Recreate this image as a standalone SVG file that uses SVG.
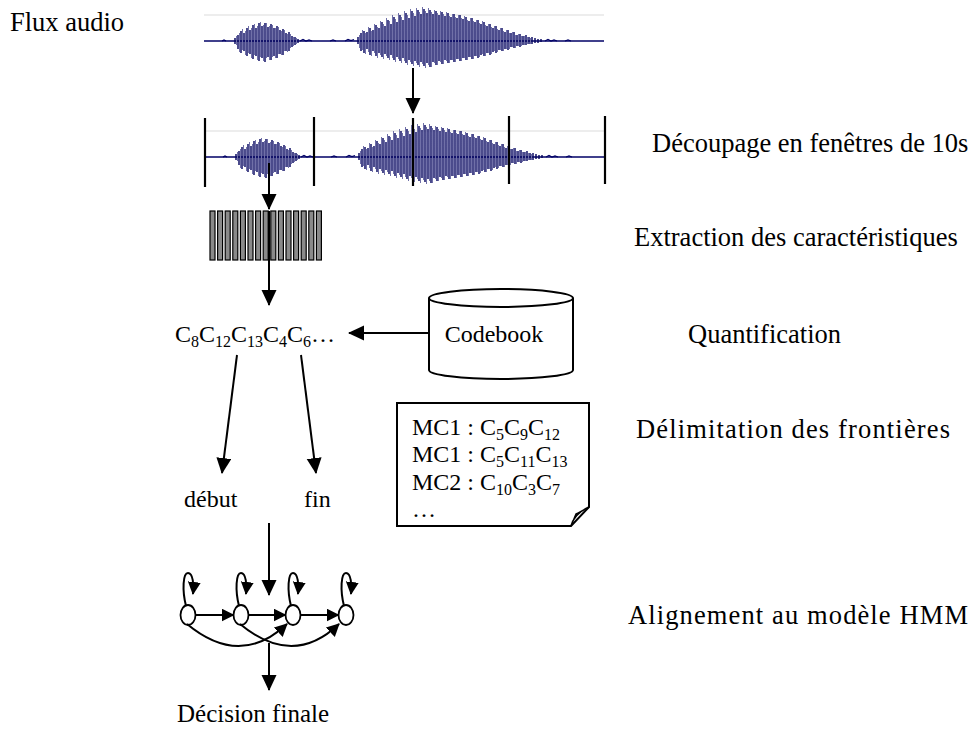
<svg xmlns="http://www.w3.org/2000/svg" xmlns:xlink="http://www.w3.org/1999/xlink" width="975" height="729" viewBox="0 0 975 729">
<style>
text{font-family:"Liberation Serif","Times New Roman",serif;fill:#000}
.lbl{font-size:26.5px}
.in{font-size:24px}
.ln{stroke:#000;stroke-width:2;fill:none}
.st{fill:#fff;stroke:#000;stroke-width:1.8}
.bar{fill:#8a8a8a;stroke:#000;stroke-width:1.2}
.win{stroke:#000;stroke-width:2.2}
</style>
<defs>
<marker id="ah" markerUnits="userSpaceOnUse" markerWidth="17" markerHeight="16" refX="15" refY="7.5" orient="auto"><path d="M0,0 L16,7.5 L0,15 z" fill="#000"/></marker>
<marker id="ahs" markerUnits="userSpaceOnUse" markerWidth="14" markerHeight="14" refX="12" refY="6.5" orient="auto"><path d="M0,0 L13,6.5 L0,13 z" fill="#000"/></marker>
<g id="wave">
<line x1="204" y1="-26" x2="604" y2="-26" stroke="#dcdcdc" stroke-width="1.2"/>
<path d="M204,0 H604" stroke="#000066" stroke-width="1.4"/>
<path d="M222,0 l2,-1 l2,1 M300,0 l3,-1.5 l3,1.5 l3,-1 l3,1 M330,0 l3,-1 l3,1 M345,0 l3,-1.5 l3,1 l3,-1 M545,0 l3,-1.5 l3,1.5 l3,-1 l3,1 M565,0 l3,-1 l3,1" stroke="#000066" stroke-width="1.2" fill="none"/>
<path stroke="#7070a8" stroke-width="1" fill="none" d="M236.5,-5V4M239.5,-8V11M242.5,-12V9M245.5,-10V14M248.5,-15V12M251.5,-13V17M254.5,-17V14M257.5,-15V19M260.5,-19V16M263.5,-16V20M266.5,-18V17M269.5,-15V19M272.5,-16V16M275.5,-13V17M278.5,-14V13M281.5,-10V14M284.5,-11V10M287.5,-7V11M290.5,-7V7M293.5,-4V5M296.5,-3V3M359.5,-6V7M362.5,-11V9M365.5,-8V13M368.5,-14V11M371.5,-10V15M374.5,-17V12M377.5,-14V17M380.5,-20V14M383.5,-17V18M386.5,-23V15M389.5,-20V19M392.5,-26V17M395.5,-22V21M398.5,-28V18M401.5,-24V22M404.5,-30V20M407.5,-26V24M410.5,-32V21M413.5,-28V25M416.5,-33V22M419.5,-29V26M422.5,-34V23M425.5,-30V27M428.5,-33V24M431.5,-29V26M434.5,-31V22M437.5,-28V24M440.5,-30V21M443.5,-27V23M446.5,-29V20M449.5,-25V22M452.5,-27V19M455.5,-24V21M458.5,-26V18M461.5,-23V20M464.5,-25V17M467.5,-21V19M470.5,-23V16M473.5,-20V18M476.5,-21V15M479.5,-18V16M482.5,-20V13M485.5,-16V15M488.5,-17V12M491.5,-14V13M494.5,-15V10M497.5,-12V11M500.5,-13V9M503.5,-10V10M506.5,-11V8M509.5,-8V8M512.5,-9V6M515.5,-6V7M518.5,-7V5M521.5,-5V5M524.5,-5V4M527.5,-4V3M530.5,-3V3"/>
<path stroke="#00005c" stroke-width="1.4" fill="none" d="M235,-3V3M238,-6V8M241,-10V12M244,-8V10M247,-13V15M250,-11V13M253,-16V18M256,-13V15M259,-18V20M262,-15V17M265,-18V21M268,-14V16M271,-17V19M274,-13V15M277,-15V17M280,-11V13M283,-12V14M286,-8V10M289,-9V10M292,-5V6M295,-4V4M298,-2V2M358,-4V3M361,-8V10M364,-10V12M367,-9V8M370,-13V14M373,-11V10M376,-16V15M379,-13V12M382,-19V16M385,-15V13M388,-21V17M391,-17V14M394,-24V19M397,-19V16M400,-26V20M403,-21V17M406,-28V22M409,-23V19M412,-30V23M415,-25V20M418,-31V24M421,-27V21M424,-32V25M427,-28V22M430,-31V26M433,-27V21M436,-30V24M439,-26V20M442,-29V23M445,-25V19M448,-28V22M451,-24V19M454,-27V21M457,-23V18M460,-26V20M463,-22V17M466,-24V19M469,-20V16M472,-23V18M475,-19V15M478,-21V17M481,-17V14M484,-19V15M487,-15V12M490,-17V14M493,-13V11M496,-15V12M499,-11V9M502,-13V10M505,-9V8M508,-11V9M511,-8V6M514,-9V7M517,-6V5M520,-7V6M523,-5V4M526,-6V4M529,-4V3M532,-4V3M535,-3V2M538,-2V2M541,-2V1"/>
</g>
</defs>

<g id="wave1"><use xlink:href="#wave" transform="translate(0,41)"/></g>

<g id="wave2">
<use xlink:href="#wave" transform="translate(1,157)"/>
<line class="win" x1="205" y1="118" x2="205" y2="187"/>
<line class="win" x1="314" y1="117" x2="314" y2="186"/>
<line class="win" x1="413" y1="118" x2="413" y2="186"/>
<line class="win" x1="509" y1="116" x2="509" y2="184"/>
<line class="win" x1="605" y1="116" x2="605" y2="184"/>
</g>

<g id="features">
<rect class="bar" x="210" y="211" width="5" height="49"/>
<rect class="bar" x="217.6" y="211" width="5" height="49"/>
<rect class="bar" x="225.2" y="211" width="5" height="49"/>
<rect class="bar" x="232.8" y="211" width="5" height="49"/>
<rect class="bar" x="240.4" y="211" width="5" height="49"/>
<rect class="bar" x="248" y="211" width="5" height="49"/>
<rect class="bar" x="255.6" y="211" width="5" height="49"/>
<rect class="bar" x="263.2" y="211" width="5" height="49"/>
<rect class="bar" x="270.8" y="211" width="5" height="49"/>
<rect class="bar" x="278.4" y="211" width="5" height="49"/>
<rect class="bar" x="286" y="211" width="5" height="49"/>
<rect class="bar" x="293.6" y="211" width="5" height="49"/>
<rect class="bar" x="301.2" y="211" width="5" height="49"/>
<rect class="bar" x="308.8" y="211" width="5" height="49"/>
<rect class="bar" x="316.4" y="211" width="5" height="49"/>
</g>

<g id="cseq">
<text class="in" x="175" y="342">C<tspan dy="5" font-size="16">8</tspan><tspan dy="-5">C</tspan><tspan dy="5" font-size="16">12</tspan><tspan dy="-5">C</tspan><tspan dy="5" font-size="16">13</tspan><tspan dy="-5">C</tspan><tspan dy="5" font-size="16">4</tspan><tspan dy="-5">C</tspan><tspan dy="5" font-size="16">6</tspan><tspan dy="-5">…</tspan></text>
</g>

<g id="codebook">
<path d="M429,298 V370 A72,9 0 0 0 573,370 V298" fill="#fff" stroke="#000" stroke-width="2"/>
<ellipse cx="501" cy="298" rx="72" ry="9" fill="#fff" stroke="#000" stroke-width="2"/>
<text class="in" x="494" y="342" text-anchor="middle">Codebook</text>
</g>

<g id="notes">
<path d="M397,403 H589 V507 L571,526 H397 Z" fill="#fff" stroke="#000" stroke-width="2"/>
<path d="M571,526 Q574,514 589,507 Q580,512 576,514 Z" fill="#ddd" stroke="#000" stroke-width="1.5"/>
<text class="in" x="412" y="435">MC1 : C<tspan dy="5" font-size="16">5</tspan><tspan dy="-5">C</tspan><tspan dy="5" font-size="16">9</tspan><tspan dy="-5">C</tspan><tspan dy="5" font-size="16">12</tspan></text>
<text class="in" x="412" y="462">MC1 : C<tspan dy="5" font-size="16">5</tspan><tspan dy="-5">C</tspan><tspan dy="5" font-size="16">11</tspan><tspan dy="-5">C</tspan><tspan dy="5" font-size="16">13</tspan></text>
<text class="in" x="412" y="490">MC2 : C<tspan dy="5" font-size="16">10</tspan><tspan dy="-5">C</tspan><tspan dy="5" font-size="16">3</tspan><tspan dy="-5">C</tspan><tspan dy="5" font-size="16">7</tspan></text>
<text class="in" x="412" y="517">…</text>
</g>

<g id="debut"><text class="in" x="184" y="507" font-size="23">début</text></g>
<g id="fin"><text class="in" x="304" y="507" font-size="23">fin</text></g>

<g id="hmm">
<ellipse class="st" cx="188" cy="615" rx="7.5" ry="10"/>
<ellipse class="st" cx="241" cy="615" rx="7.5" ry="10"/>
<ellipse class="st" cx="293" cy="615" rx="7.5" ry="10"/>
<ellipse class="st" cx="346" cy="615" rx="7.5" ry="10"/>
</g>

<g id="decision"><text x="177" y="722" font-size="25">Décision finale</text></g>

<g id="labels">
<text class="lbl" x="10" y="31" font-size="26">Flux audio</text>
<text class="lbl" x="652" y="152">Découpage en fenêtres de 10s</text>
<text class="lbl" x="634" y="246">Extraction des caractéristiques</text>
<text class="lbl" x="688" y="343">Quantification</text>
<text class="lbl" x="636" y="438" textLength="314" lengthAdjust="spacing">Délimitation des frontières</text>
<text class="lbl" x="628" y="624" textLength="340" lengthAdjust="spacing">Alignement au modèle HMM</text>
</g>

<g id="connectors">
<line class="ln" x1="413" y1="68" x2="413" y2="113" marker-end="url(#ah)"/>
<line class="ln" x1="269" y1="163" x2="269" y2="209" marker-end="url(#ah)"/>
<line class="ln" x1="269" y1="211" x2="269" y2="305" marker-end="url(#ah)"/>
<line class="ln" x1="428" y1="333" x2="349" y2="333" marker-end="url(#ah)"/>
<line class="ln" x1="237" y1="355" x2="222" y2="473" marker-end="url(#ah)"/>
<line class="ln" x1="301" y1="355" x2="316" y2="473" marker-end="url(#ah)"/>
<line class="ln" x1="269" y1="523" x2="269" y2="595" marker-end="url(#ah)"/>
<line class="ln" x1="195.5" y1="615" x2="233.5" y2="615" marker-end="url(#ahs)"/>
<line class="ln" x1="248.5" y1="615" x2="285.5" y2="615" marker-end="url(#ahs)"/>
<line class="ln" x1="300.5" y1="615" x2="338.5" y2="615" marker-end="url(#ahs)"/>
<path class="ln" d="M187,624 Q240,668 287,624" marker-end="url(#ahs)"/>
<path class="ln" d="M240,624 Q293,668 339,624" marker-end="url(#ahs)"/>
<path class="ln" d="M186,606 C182,590 183,573 188,573 C193,573 194,585 193,594" marker-end="url(#ahs)"/>
<path class="ln" d="M239,606 C235,590 236,573 241,573 C246,573 247,585 246,594" marker-end="url(#ahs)"/>
<path class="ln" d="M291,606 C287,590 288,573 293,573 C298,573 299,585 298,594" marker-end="url(#ahs)"/>
<path class="ln" d="M344,606 C340,590 341,573 346,573 C351,573 352,585 351,594" marker-end="url(#ahs)"/>
<line class="ln" x1="269" y1="643" x2="269" y2="690" marker-end="url(#ah)"/>
</g>
</svg>
